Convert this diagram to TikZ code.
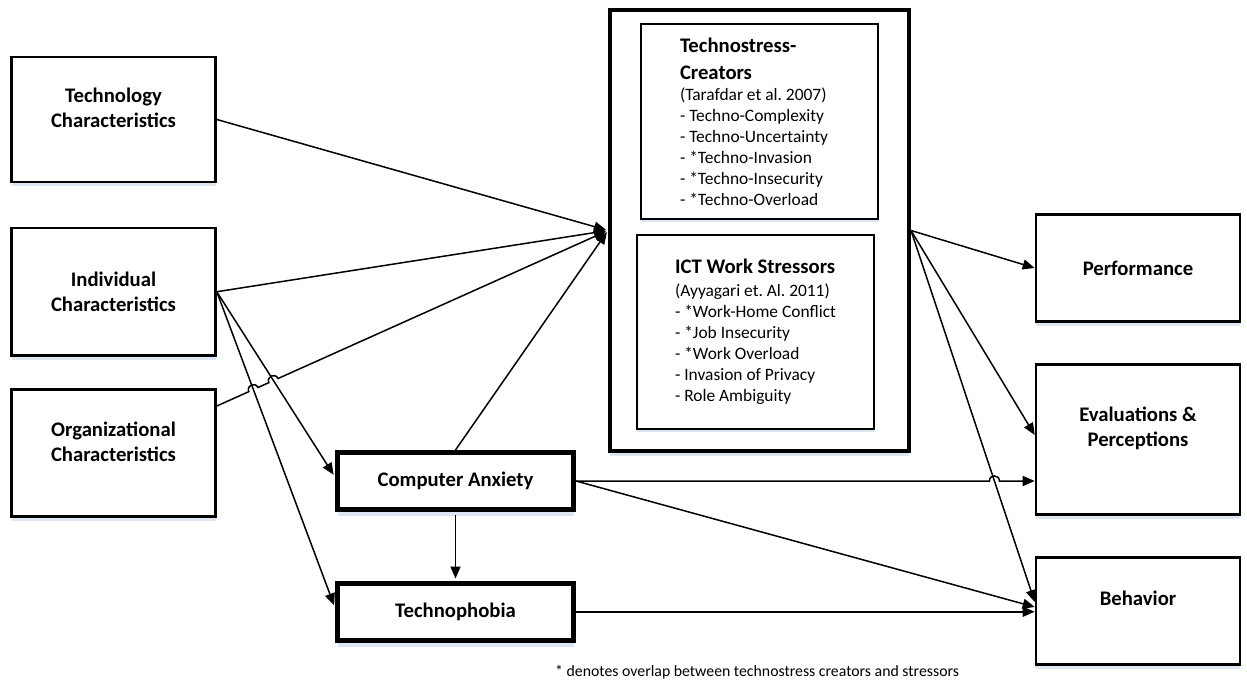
\documentclass[tikz,border=0pt]{standalone}
\usepackage{fontspec}
\setmainfont{Carlito}
\usetikzlibrary{arrows.meta,calc,intersections,shadows}
\definecolor{shadowblue}{HTML}{DCE6F2}
\newcommand\BoxLabelFont{\bfseries\fontsize{20.7}{25}\selectfont}
\newcommand\HeadFont{\bfseries\fontsize{20.7}{25}\selectfont}
\newcommand\ListFont{\frenchspacing\fontsize{17.4}{21}\selectfont}
\newcommand\NoteFont{\fontsize{15.8}{19}\selectfont}

\begin{document}
\begin{tikzpicture}[x=1pt,y=-1pt,
  box/.style={draw, fill=white, line width=2.6pt, minimum width=204pt,
    inner sep=0pt, font=\BoxLabelFont, align=center,
    drop shadow={shadow xshift=0pt, shadow yshift=-4.5pt, fill=shadowblue, opacity=1}},
  thickbox/.style={box, line width=5pt, minimum width=236pt,
    drop shadow={shadow xshift=0pt, shadow yshift=-6.5pt, fill=shadowblue, opacity=1}},
  bigbox/.style={draw, fill=white, line width=4pt, inner sep=0pt,
    drop shadow={shadow xshift=0pt, shadow yshift=-5pt, fill=shadowblue, opacity=1}},
  inbox/.style={draw, fill=white, line width=2pt, inner sep=0pt,
    font=\ListFont, align=left,
    drop shadow={shadow xshift=0pt, shadow yshift=-3pt, fill=shadowblue, opacity=1}},
  lbl/.style={inner sep=0pt, font=\BoxLabelFont, align=center},
  note/.style={inner sep=0pt, font=\NoteFont, anchor=west},
  arr/.style={line width=1.5pt, -{Triangle[length=12pt,width=10pt]}},
]
\useasboundingbox (0,0) rectangle (1247,684);
\fill[white] (0,0) rectangle (1247,684);

% antecedents
\node[box, minimum height=125pt] (tech) at (113.5,119.5) {};
\node[lbl] (tech-l) at (113.5,107.5) {Technology\\Characteristics};
\node[box, minimum height=127.5pt] (indiv) at (113.5,291.75) {Individual\\Characteristics};
\node[box, minimum height=127pt] (org) at (113.5,453) {};
\node[lbl] (org-l) at (113.5,442) {Organizational\\Characteristics};

% anxiety and phobia
\node[thickbox, minimum height=57pt] (ca) at (455.5,481) {Computer Anxiety};
\node[thickbox, minimum height=56.5pt] (tph) at (455.5,611.75) {Technophobia};

% stressors
\node[bigbox, minimum width=299pt, minimum height=441pt] (big) at (759.5,230.5) {};
\node[inbox, align=flush left, inner xsep=39pt, text width=159pt, minimum height=195pt] (creators) at (759.5,121.5)
  {{\HeadFont Technostress-}\\[6pt]{\HeadFont Creators}\\(Tarafdar et al. 2007)\\
   - Techno-Complexity\\- Techno-Uncertainty\\- *Techno-Invasion\\
   - *Techno-Insecurity\\- *Techno-Overload};
\node[inbox, minimum width=237pt, minimum height=194pt] (ict) at (755.5,332)
  {{\HeadFont ICT Work Stressors}\\[2pt](Ayyagari et. Al. 2011)\\
   - *Work-Home Conflict\\- *Job Insecurity\\- *Work Overload\\
   - Invasion of Privacy\\- Role Ambiguity};

% outcomes
\node[box, minimum height=107.4pt] (perf) at (1138,268) {Performance};
\node[box, minimum height=150.4pt] (eval) at (1138,439.5) {};
\node[lbl] (eval-l) at (1138,428) {Evaluations \&\\Perceptions};
\node[box, minimum height=107.4pt] (beh) at (1138,611) {};
\node[lbl] (beh-l) at (1138,598) {Behavior};

\node[note] (fn) at (555,672) {* denotes overlap between technostress creators and stressors};

% connectors into the stressor box
\draw[arr, shorten >=2pt] (tech.east) -- (big.west);
\draw[arr, shorten >=2pt] (indiv.east) -- (big.west);
\draw[arr, shorten >=2pt] (ca.north) -- (big.west);
\draw[arr, shorten >=2.5pt, name path=i2ca] (indiv.east) -- ([yshift=4pt]ca.west);
\draw[arr, shorten >=2.5pt, name path=i2tph] (indiv.east) -- ([yshift=4pt]tph.west);
\draw[arr, shorten <=2.5pt, shorten >=2.5pt] (ca.south) -- (tph.north);

% organizational line hops over the two steep lines
\coordinate (orgout) at ([yshift=47pt]org.east);
\path[name path=o2big] (orgout) -- (big.west);
\path[name intersections={of=o2big and i2tph, by=h1}];
\path[name intersections={of=o2big and i2ca, by=h2}];
\coordinate (h1a) at ($(h1)!5pt!(orgout)$);
\coordinate (h1b) at ($(h1)!5pt!(big.west)$);
\coordinate (h2a) at ($(h2)!5pt!(orgout)$);
\coordinate (h2b) at ($(h2)!5pt!(big.west)$);
\draw[arr, shorten >=2pt] (orgout) -- (h1a)
  .. controls ($(h1a)!6.7pt!90:(h1)$) and ($(h1b)!6.7pt!-90:(h1)$) .. (h1b)
  -- (h2a)
  .. controls ($(h2a)!6.7pt!90:(h2)$) and ($(h2b)!6.7pt!-90:(h2)$) .. (h2b)
  -- (big.west);

% outcomes
\draw[arr] (big.east) -- (perf.west);
\draw[arr] (big.east) -- ([yshift=4.5pt]eval.west);
\draw[arr, name path=b2beh] (big.east) -- ([yshift=9pt]beh.west);
\draw[arr] (ca.east) -- ([yshift=4pt]beh.west);
\draw[arr] (tph.east) -- (tph.east -| beh.west);

% anxiety to evaluations, hopping over the stressor-behavior line
\coordinate (caend) at (ca.east -| eval.west);
\path[name path=c2e] (ca.east) -- (caend);
\path[name intersections={of=c2e and b2beh, by=h3}];
\coordinate (h3a) at ($(h3)!5pt!(ca.east)$);
\coordinate (h3b) at ($(h3)!5pt!(caend)$);
\draw[arr] (ca.east) -- (h3a)
  .. controls ($(h3a)!6.7pt!90:(h3)$) and ($(h3b)!6.7pt!-90:(h3)$) .. (h3b)
  -- (caend);
\end{tikzpicture}
\end{document}
